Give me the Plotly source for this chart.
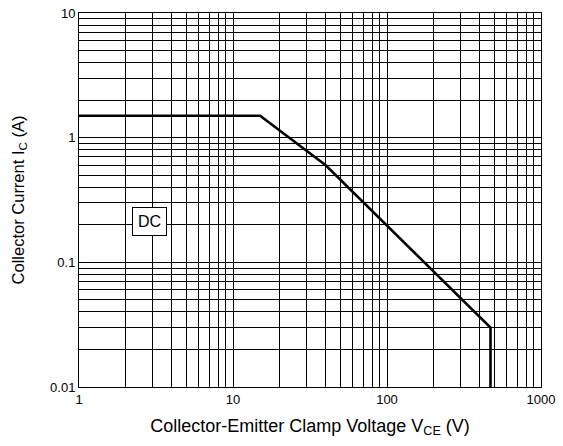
import plotly.graph_objects as go

# Safe operating curve (DC)
vce = [1, 15, 40, 470, 470]
ic = [1.5, 1.5, 0.6, 0.03, 0.01]

x_decades = [1, 10, 100, 1000]
y_decades = [0.01, 0.1, 1, 10]
x_tick_labels = ["1", "10", "100", "1000"]
y_tick_labels = ["0.01", "0.1", "1", "10"]
grid_multipliers = [2, 3, 4, 5, 6, 7, 8, 9]

def minor_vals(decades):
    return [d * m for d in decades[:-1] for m in grid_multipliers]

FONT = "Liberation Sans, Arial, sans-serif"

fig = go.Figure()
fig.add_trace(go.Scatter(x=vce, y=ic, mode="lines",
                         line=dict(color="black", width=2.6),
                         showlegend=False, hoverinfo="skip"))

fig.add_annotation(x=0.457, y=-0.676, xref="x", yref="y", text="DC",
                   showarrow=False, font=dict(family=FONT, size=16, color="black"),
                   bgcolor="white", bordercolor="black", borderwidth=1, borderpad=5)

axis_common = dict(type="log", showgrid=True, gridcolor="black", gridwidth=1,
                   showline=True, linecolor="black", linewidth=1, mirror=True,
                   ticks="", zeroline=False, automargin=False,
                   tickfont=dict(family=FONT, size=13, color="black"))

fig.update_xaxes(range=[0, 3], tickmode="array", tickvals=x_decades, ticktext=x_tick_labels,
                 minor=dict(tickmode="array", tickvals=minor_vals(x_decades),
                            showgrid=True, gridcolor="black", gridwidth=1, ticks=""),
                 title=dict(text="Collector-Emitter Clamp Voltage V<sub>CE</sub> (V)",
                            font=dict(family=FONT, size=18, color="black"), standoff=13),
                 **axis_common)
fig.update_yaxes(range=[-2, 1], tickmode="array", tickvals=y_decades, ticktext=y_tick_labels,
                 minor=dict(tickmode="array", tickvals=minor_vals(y_decades),
                            showgrid=True, gridcolor="black", gridwidth=1, ticks=""),
                 title=dict(text="Collector Current I<sub>C</sub> (A)",
                            font=dict(family=FONT, size=16.5, color="black"), standoff=21),
                 **axis_common)

fig.update_layout(width=563, height=446, margin=dict(l=79, r=22, t=13, b=59),
                  plot_bgcolor="white", paper_bgcolor="white",
                  font=dict(family=FONT, color="black"))

fig.write_html("out.html", config={"displayModeBar": False},
               post_script="document.body.style.margin='0';")
